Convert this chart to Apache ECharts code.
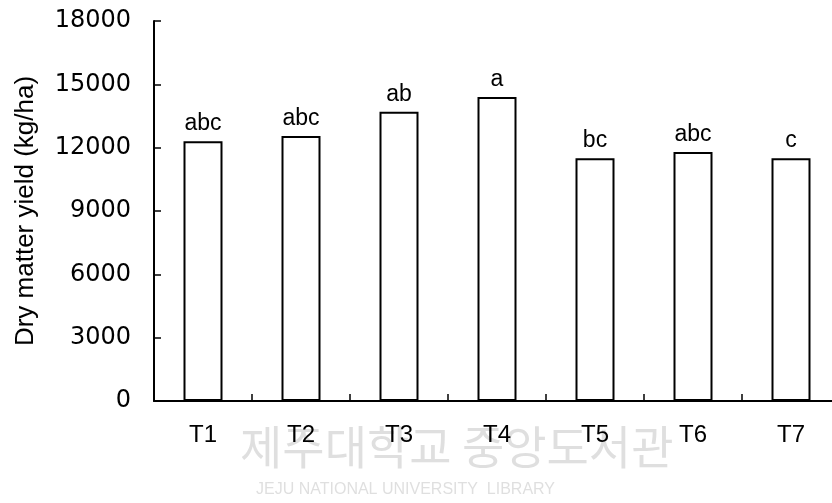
<!DOCTYPE html>
<html>
<head>
<meta charset="utf-8">
<script src="https://cdn.jsdelivr.net/npm/echarts@6/dist/echarts.min.js"></script>
<style>
  html, body { margin: 0; padding: 0; background: #fff; }
  #chart { width: 832px; height: 503px; }
</style>
</head>
<body>
<div id="chart"></div>
<script>
// data
var categories = ['T1', 'T2', 'T3', 'T4', 'T5', 'T6', 'T7']
var yieldValues = [12300, 12550, 13700, 14400, 11500, 11800, 11500]
var letters = ['abc', 'abc', 'ab', 'a', 'bc', 'abc', 'c']
var yTicks = [0, 3000, 6000, 9000, 12000, 15000, 18000]

var chart = echarts.init(document.getElementById('chart'), null, { renderer: 'canvas' })

chart.setOption({
    animation: false,
    backgroundColor: '#fff',
    grid: {
        left: 154,
        top: 21,
        width: 686, // axis runs off the right edge in the original
        height: 380,
        containLabel: false,
        outerBoundsMode: 'none'
    },
    // faint library watermark
    graphic: [
        {
            type: 'text',
            left: 240,
            top: 424,
            z: -10,
            style: {
                text: '제주대학교 중앙도서관',
                fontFamily: 'Noto Sans CJK KR',
                fontSize: 46,
                fill: 'rgba(150,150,150,0.3)'
            }
        },
        {
            type: 'text',
            left: 256,
            top: 482,
            z: -10,
            style: {
                text: 'JEJU NATIONAL UNIVERSITY  LIBRARY',
                fontFamily: 'Liberation Sans',
                fontSize: 16,
                fill: 'rgba(150,150,150,0.3)'
            }
        }
    ],
    xAxis: {
        type: 'category',
        data: categories,
        axisLine: { lineStyle: { color: '#000', width: 2 } },
        axisTick: {
            show: true,
            inside: true,
            length: 7,
            alignWithLabel: false,
            lineStyle: { color: '#000', width: 1.5 }
        },
        axisLabel: {
            color: '#000',
            fontFamily: 'Liberation Sans',
            fontSize: 24,
            margin: 22
        }
    },
    yAxis: {
        type: 'value',
        min: 0,
        max: 18000,
        interval: 3000,
        name: 'Dry matter yield (kg/ha)',
        nameLocation: 'middle',
        nameGap: 115,
        nameTextStyle: {
            color: '#000',
            fontFamily: 'Liberation Sans',
            fontSize: 26
        },
        axisLine: { show: true, lineStyle: { color: '#000', width: 2 } },
        axisTick: {
            show: true,
            inside: true,
            length: 7,
            lineStyle: { color: '#000', width: 1.5 }
        },
        splitLine: { show: false },
        axisLabel: {
            color: '#000',
            fontFamily: 'DejaVu Sans',
            fontSize: 24,
            margin: 23,
            formatter: function (v) {
                return yTicks.indexOf(v) > -1 ? String(v) : ''
            }
        }
    },
    series: [
        {
            type: 'bar',
            data: yieldValues,
            barWidth: 39,
            itemStyle: {
                color: '#fff',
                borderColor: '#000',
                borderWidth: 2
            },
            label: {
                show: true,
                position: 'top',
                distance: 6,
                color: '#000',
                fontFamily: 'Liberation Sans',
                fontSize: 23,
                formatter: function (p) {
                    return letters[p.dataIndex]
                }
            }
        }
    ]
})
</script>
</body>
</html>
